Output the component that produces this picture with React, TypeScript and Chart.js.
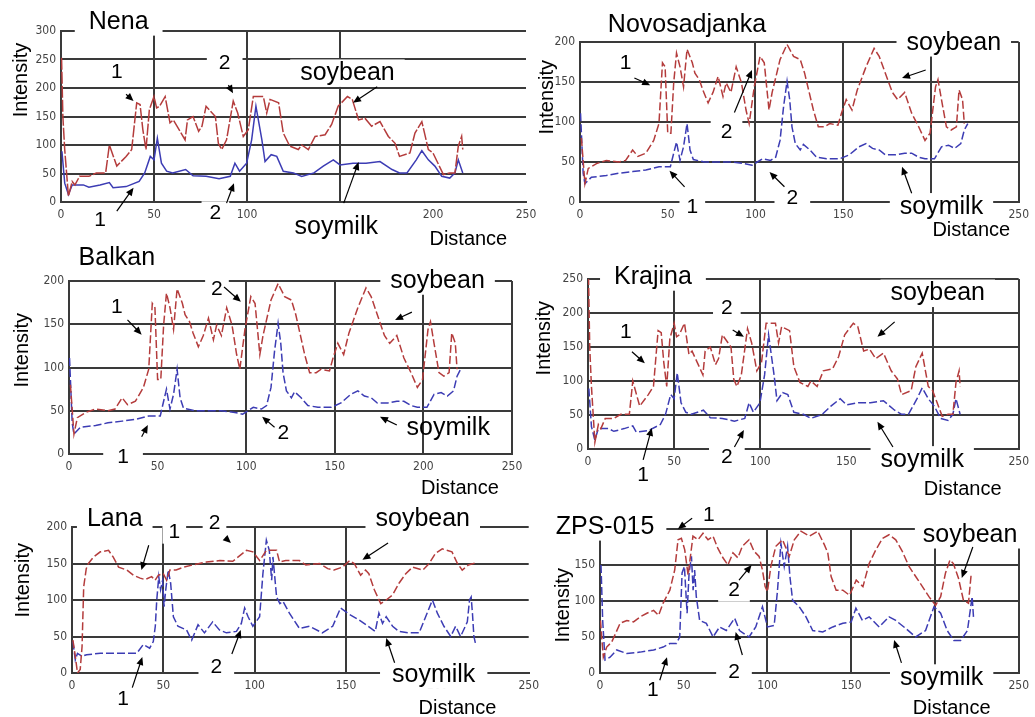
import React, { useEffect, useRef } from "react";
import { Chart, registerables } from "chart.js";
Chart.register(...registerables);

// ---------------- DATA ----------------
const xTickStep = 50;

// Nena (also Krajina shows the same traces)
const nenaSoybeanX = [0.3, 1, 2, 4, 6, 7.5, 10, 15, 19, 24, 26, 30, 35, 38, 40.7, 42.5, 44, 45.7, 47.5, 50, 51.4, 53, 56, 58.6, 60.4, 64, 66.7, 68, 71, 74, 75.8, 78, 83, 84.6, 86.4, 89, 92.6, 95, 98, 100.7, 103.4, 108.8, 110.6, 112.4, 117, 119.5, 123, 127.6, 129.4, 133, 136.6, 142, 145.5, 149, 154, 156.6, 160, 163.4, 167, 171.5, 176, 179.6, 182, 187.6, 190.3, 194, 197.5, 200, 205.6, 209, 211.8, 213.6, 215.4, 216];
const nenaSoybean = [253, 150, 92, 10, 36, 30, 45, 45, 51, 51, 100, 63, 80, 92, 174, 171, 127, 92, 162, 185, 165, 168, 185, 139, 144, 124, 109, 144, 150, 124, 133, 168, 150, 103, 92, 109, 177, 156, 115, 127, 185, 185, 156, 180, 174, 121, 98, 92, 100, 92, 115, 118, 136, 168, 185, 180, 144, 147, 133, 141, 115, 103, 80, 86, 121, 141, 92, 86, 48, 51, 51, 98, 115, 92];
const nenaSoymilkX = [0.5, 2, 4, 6, 12, 15, 21, 26, 28, 35, 42, 45, 48, 50, 51.8, 54, 56.8, 60, 67, 71, 78, 85, 91, 93.5, 96, 99.8, 102.5, 104.8, 108, 109.7, 113, 116, 119.5, 125, 129.4, 136, 141, 146.4, 150, 157, 164, 171.5, 178, 182, 186, 191, 194, 197.5, 201, 204.7, 209, 211.8, 213.6, 216];
const nenaSoymilk = [89, 33, 13, 30, 30, 26, 30, 34, 25, 27, 36, 51, 80, 74, 112, 68, 54, 51, 57, 46, 45, 41, 45, 68, 54, 68, 109, 168, 109, 71, 83, 80, 54, 51, 45, 51, 63, 74, 65, 68, 68, 71, 57, 51, 51, 74, 90, 74, 63, 45, 42, 51, 74, 51];

// Novosadjanka (Balkan shows the same traces)
const novoSoybeanX = [0.8, 2.8, 4.7, 9.4, 15, 22, 26, 30, 33, 37.5, 42, 45, 47, 48.5, 50, 51.8, 53.4, 55, 57, 59, 61, 64, 65.5, 68, 70, 73, 75.8, 78.7, 81.5, 83.3, 86, 89, 92, 94.6, 96.4, 99.3, 102.6, 105, 107.7, 109.5, 114, 118, 121.7, 125.5, 128, 133, 135.8, 139.5, 142.3, 147, 149, 151.7, 155, 158, 163, 167.6, 170.5, 174, 178, 181, 185, 189, 193, 196.6, 199.5, 202.6, 204, 206, 208.8, 211.5, 214.5, 216, 218, 219];
const novoSoybean = [80, 23, 42, 48, 52, 50, 52, 65, 57, 61, 77, 98, 174, 169, 86, 86, 149, 186, 169, 144, 191, 174, 161, 153, 140, 124, 137, 157, 132, 149, 137, 169, 149, 115, 98, 144, 182, 174, 115, 137, 178, 197, 182, 178, 161, 115, 94, 94, 98, 96, 111, 128, 115, 140, 169, 192, 182, 161, 137, 128, 137, 111, 94, 77, 86, 144, 153, 128, 94, 90, 94, 140, 128, 98];
const novoSoymilkX = [0.3, 1.8, 2.8, 6.5, 15, 22, 30, 37.5, 45, 51.5, 53.4, 55, 57, 59, 61, 62.7, 64.6, 71, 78.7, 86, 93.6, 98, 104, 108.6, 111.5, 114, 116, 118, 119.5, 120.8, 122.7, 125.5, 127.3, 131, 134.8, 140.5, 148, 153.5, 159, 163, 166.7, 170.5, 174, 180, 185, 189, 193, 196.6, 202, 206, 210, 213.5, 217, 219, 221];
const novoSoymilk = [111, 36, 23, 31, 33, 36, 38, 40, 44, 44, 61, 75, 52, 69, 98, 65, 53, 50, 50, 50, 48, 46, 54, 52, 56, 77, 119, 151, 128, 94, 73, 65, 72, 65, 56, 54, 54, 59, 69, 73, 67, 65, 59, 59, 61, 61, 56, 54, 54, 69, 71, 67, 73, 90, 98];

// Lana
const lanaSoybeanX = [0.5, 1.8, 3, 4.5, 5.5, 6.4, 7.8, 9, 11.8, 15.5, 20, 22.5, 25.5, 30, 33.6, 37.3, 40, 43.6, 45.5, 47.3, 50, 51.8, 53.6, 57, 61, 66, 73.6, 81, 88, 91, 95.5, 99, 102.7, 106.4, 112, 113.6, 117, 124.5, 128, 135.5, 140, 143.5, 148, 152, 154.5, 158, 160.7, 162.5, 165.5, 169, 172, 175.5, 179, 182.7, 186.4, 192, 195.5, 199, 202.7, 208, 211, 213.6, 217, 221];
const lanaSoybean = [45, 23, 0, 5, 36, 118, 143, 150, 159, 166, 168, 159, 145, 141, 134, 130, 128, 132, 127, 134, 136, 127, 141, 141, 145, 148, 152, 154, 153, 159, 168, 166, 154, 168, 168, 152, 154, 154, 148, 150, 143, 141, 145, 154, 150, 134, 141, 136, 114, 95, 100, 107, 123, 136, 145, 141, 150, 164, 170, 166, 150, 141, 148, 151];
const lanaSoymilkX = [0.5, 1.8, 3, 5.5, 8, 15.5, 23, 30, 35.5, 39, 42.5, 44.5, 45.6, 46.4, 47.5, 48.5, 49.6, 50.4, 51.5, 52.7, 54, 55.5, 58, 62.7, 65.5, 69, 72.5, 77, 80.7, 84.5, 90, 92.7, 94.5, 96.4, 99, 102.7, 104.5, 106.4, 108, 109.3, 110, 112, 113.8, 115.5, 119, 124.5, 130, 137, 142.7, 147, 152, 157, 161, 166, 168, 170, 172, 175.5, 179, 184.5, 190, 193.6, 197.3, 200, 203.6, 207.3, 210, 212.7, 216.4, 217.6, 218.5, 219.2, 220, 221];
const lanaSoymilk = [43, 18, 27, 23, 25, 27, 27, 27, 27, 39, 34, 43, 64, 100, 132, 114, 127, 91, 118, 141, 123, 77, 64, 59, 45, 66, 55, 70, 59, 55, 57, 68, 89, 77, 64, 77, 136, 182, 168, 127, 159, 104, 95, 98, 82, 61, 64, 55, 64, 89, 80, 73, 66, 57, 82, 68, 77, 64, 57, 55, 55, 77, 100, 82, 64, 50, 64, 50, 70, 100, 104, 82, 50, 39];

// ZPS-015
const zpsSoybeanX = [0.3, 1, 2, 4, 7, 12, 16, 20, 24, 28, 32, 35, 37.7, 41.7, 44.6, 46.6, 48.6, 50.6, 52.6, 54, 55.5, 58.5, 61.5, 64.5, 67.5, 70.4, 73.4, 76.4, 79.4, 82.3, 85, 89, 92, 95, 97, 98.6, 100, 102, 105, 109, 113, 116, 120, 125, 130, 134, 136, 138, 141, 145, 149, 153, 157, 160.7, 164.7, 168.7, 172.6, 176.6, 180.5, 184.5, 188.5, 192.5, 196.4, 200.4, 203.4, 206.3, 209, 211, 214, 217, 220, 221.5, 223];
const zpsSoybean = [73, 50, 22, 36, 43, 69, 73, 71, 78, 83, 87, 80, 97, 115, 143, 185, 187, 171, 136, 162, 190, 185, 194, 185, 190, 173, 160, 150, 167, 160, 176, 185, 169, 162, 143, 120, 113, 148, 176, 185, 162, 185, 197, 190, 197, 178, 167, 134, 115, 115, 108, 129, 120, 152, 171, 187, 192, 185, 169, 148, 134, 120, 106, 94, 106, 139, 157, 152, 132, 101, 97, 134, 134];
const zpsSoymilkX = [0.6, 1.6, 3, 6, 10, 16, 24, 32, 37.7, 41.7, 45.6, 47.6, 49, 50.4, 52, 53.2, 54.6, 55.6, 56.5, 57.5, 59.5, 63.5, 67.5, 71.4, 75.4, 80.4, 83.3, 89, 93, 97, 100, 104, 106, 108, 110, 112, 113.4, 115, 119, 123, 127, 133, 139, 145, 150, 152.8, 156.7, 160.7, 166.7, 172.6, 176.6, 182.5, 188.5, 194.4, 199.4, 203.4, 207.3, 211.3, 215.3, 219.4, 222.2, 223];
const zpsSoymilk = [150, 73, 18, 22, 32, 27, 29, 32, 36, 41, 41, 50, 139, 148, 83, 139, 162, 115, 143, 106, 73, 69, 50, 64, 59, 76, 59, 50, 64, 92, 64, 66, 115, 180, 148, 176, 134, 101, 92, 78, 59, 57, 64, 69, 71, 90, 73, 78, 64, 78, 73, 62, 50, 59, 92, 83, 59, 45, 45, 59, 106, 78];

// ---------------- LAYOUT / STYLE ----------------
type Ann = { t: string; x: number; y: number; s?: number; bg?: boolean; pad?: number; padY?: number; rot?: boolean; a?: [number, number, number, number] };
type PanelCfg = {
  box: [number, number, number, number];
  area: [number, number, number, number];
  yMax: number;
  vLines: number[];
  sbX: number[]; sb: number[];
  smX: number[]; sm: number[];
  redDash: number[]; blueDash: number[];
  anns: Ann[];
};

const RED = "#b43c3c";
const BLUE = "#3c3cb4";
const GRID = "#3a3a3a";
const LABEL_FONT = '"Liberation Sans", Arial, sans-serif';
const TICK_FONT = '"DejaVu Sans Condensed", "Liberation Sans Narrow", "Liberation Sans", sans-serif';

const panels: PanelCfg[] = [
  {
    box: [0, 0, 545, 250], area: [61, 31, 526, 202], yMax: 300, vLines: [50, 100, 150],
    sbX: nenaSoybeanX, sb: nenaSoybean, smX: nenaSoymilkX, sm: nenaSoymilk, redDash: [12, 2], blueDash: [],
    anns: [
      { t: "Nena", x: 31, y: 316, s: 25, bg: true, pad: 14 },
      { t: "1", x: 30, y: 228, s: 21, bg: true, pad: 10, a: [35, 189, 39, 177] },
      { t: "2", x: 88, y: 244, s: 21, bg: true, pad: 12, a: [90, 205, 92.5, 191] },
      { t: "soybean", x: 154, y: 226, s: 25, bg: true, pad: 10, a: [170, 202, 157, 174] },
      { t: "1", x: 21, y: -32, s: 21, a: [30, -16, 39, 25] },
      { t: "2", x: 83, y: -19, s: 21, bg: true, pad: 8, a: [89, -2, 93, 33] },
      { t: "soymilk", x: 148, y: -44, s: 25, bg: true, pad: 8, padY: 8, a: [152, -2, 160, 70] },
      { t: "Intensity", x: -21, y: 214, s: 20, rot: true },
      { t: "Distance", x: 219, y: -65, s: 20 },
    ],
  },
  {
    box: [520, 0, 515, 250], area: [580, 42, 1020, 202], yMax: 200, vLines: [100, 150, 200, 250],
    sbX: novoSoybeanX, sb: novoSoybean, smX: novoSoymilkX, sm: novoSoymilk, redDash: [8, 3], blueDash: [8, 3],
    anns: [
      { t: "Novosadjanka", x: 61, y: 221, s: 25, bg: true, pad: 14 },
      { t: "soybean", x: 213, y: 199, s: 25, bg: true, pad: 10, a: [197, 165, 183.5, 155] },
      { t: "1", x: 26, y: 174, s: 21, a: [31, 155, 40, 146] },
      { t: "2", x: 83.5, y: 87, s: 21, bg: true, pad: 10, a: [88, 112, 98, 165] },
      { t: "1", x: 64, y: -6, s: 21, bg: true, pad: 7, a: [59.6, 19, 51, 39] },
      { t: "2", x: 121, y: 5, s: 21, bg: true, pad: 12, a: [116.5, 19, 108, 37.5] },
      { t: "soymilk", x: 206, y: -6, s: 25, bg: true, pad: 10, a: [189, 11, 183.5, 44] },
      { t: "Intensity", x: -18.8, y: 131, s: 20, rot: true },
      { t: "Distance", x: 223, y: -35, s: 20 },
    ],
  },
  {
    box: [0, 245, 545, 255], area: [69, 281, 512, 454], yMax: 200, vLines: [100, 150, 200, 250],
    sbX: novoSoybeanX, sb: novoSoybean, smX: novoSoymilkX, sm: novoSoymilk, redDash: [8, 3], blueDash: [8, 3],
    anns: [
      { t: "Balkan", x: 27, y: 227, s: 25, bg: true, pad: 14 },
      { t: "soybean", x: 208, y: 200, s: 25, bg: true, pad: 10, a: [193.5, 164, 184, 155] },
      { t: "1", x: 27, y: 170, s: 21, a: [33, 155, 41, 138] },
      { t: "2", x: 83.5, y: 190, s: 21, bg: true, pad: 6, a: [87.5, 193, 97, 176] },
      { t: "1", x: 30.5, y: -3.5, s: 21, bg: true, pad: 14, a: [41, 20, 44.5, 33.5] },
      { t: "2", x: 121, y: 24, s: 21, a: [116, 31, 109, 43] },
      { t: "soymilk", x: 214, y: 30, s: 25, a: [185, 33.5, 175.5, 43] },
      { t: "Intensity", x: -26.5, y: 120, s: 20, rot: true },
      { t: "Distance", x: 220.6, y: -40, s: 20 },
    ],
  },
  {
    box: [520, 245, 515, 255], area: [588, 279, 1019, 449], yMax: 250, vLines: [50, 100, 200, 250],
    sbX: nenaSoybeanX, sb: nenaSoybean, smX: nenaSoymilkX, sm: nenaSoymilk, redDash: [8, 3], blueDash: [8, 3],
    anns: [
      { t: "Krajina", x: 37.7, y: 253, s: 25, bg: true, pad: 14, padY: 6 },
      { t: "soybean", x: 203, y: 229, s: 25, bg: true, pad: 10, a: [178, 187, 168, 165] },
      { t: "1", x: 22, y: 172, s: 21, bg: true, pad: 8, a: [25.5, 143, 33, 126] },
      { t: "2", x: 80.6, y: 207, s: 21, bg: true, pad: 8, a: [84, 175, 90.5, 165] },
      { t: "1", x: 32, y: -38, s: 21, a: [32, -16, 37, 31] },
      { t: "2", x: 80.6, y: -12, s: 21, bg: true, pad: 12, a: [85, 3, 90.5, 28] },
      { t: "soymilk", x: 194, y: -16, s: 25, bg: true, pad: 10, a: [177, 3, 168, 40] },
      { t: "Intensity", x: -25, y: 163, s: 20, rot: true },
      { t: "Distance", x: 217.5, y: -59, s: 20 },
    ],
  },
  {
    box: [0, 495, 545, 222], area: [72, 527, 532, 673], yMax: 200, vLines: [50, 100, 150],
    sbX: lanaSoybeanX, sb: lanaSoybean, smX: lanaSoymilkX, sm: lanaSoymilk, redDash: [8, 3], blueDash: [8, 3],
    anns: [
      { t: "Lana", x: 23.4, y: 211, s: 25, bg: true, pad: 10 },
      { t: "soybean", x: 192, y: 211, s: 25, bg: true, pad: 10, a: [173, 178, 159, 155] },
      { t: "1", x: 56, y: 193, s: 21, bg: true, pad: 6, a: [42, 175, 38, 141] },
      { t: "2", x: 78, y: 205, s: 21, bg: true, pad: 6, a: [84, 185, 87, 178] },
      { t: "1", x: 28, y: -36, s: 21, a: [33, -20, 38.5, 22] },
      { t: "2", x: 79, y: 8, s: 21, bg: true, pad: 12, a: [87.5, 26, 92.4, 59] },
      { t: "soymilk", x: 198, y: -3, s: 25, bg: true, pad: 12, padY: 2, a: [176.6, 14, 172, 48] },
      { t: "Intensity", x: -26.6, y: 127, s: 20, rot: true },
      { t: "Distance", x: 211, y: -48, s: 20 },
    ],
  },
  {
    box: [520, 495, 515, 222], area: [600, 529, 1020, 673], yMax: 200, vLines: [100, 150, 200, 250],
    sbX: zpsSoybeanX, sb: zpsSoybean, smX: zpsSoymilkX, sm: zpsSoymilk, redDash: [8, 3], blueDash: [8, 3],
    anns: [
      { t: "ZPS-015", x: 3, y: 203, s: 25, bg: true, pad: 12, padY: 6 },
      { t: "1", x: 65, y: 219, s: 21, bg: true, pad: 8, a: [55, 215, 46.5, 200] },
      { t: "soybean", x: 221, y: 192, s: 25, bg: true, pad: 8, a: [222.6, 175, 216, 132] },
      { t: "2", x: 80, y: 115, s: 21, bg: true, pad: 10, a: [83, 129, 90.5, 150] },
      { t: "1", x: 31.5, y: -24, s: 21, a: [35.7, -10, 40, 22] },
      { t: "2", x: 80, y: 1, s: 21, bg: true, pad: 12, a: [85, 25, 81, 57] },
      { t: "soymilk", x: 204, y: -7, s: 25, bg: true, pad: 10, a: [180, 14, 175.6, 46] },
      { t: "Intensity", x: -22, y: 94, s: 20, rot: true },
      { t: "Distance", x: 210, y: -49, s: 20 },
    ],
  },
];

function mkPlugin(anns: Ann[]) {
  return {
    id: "anns",
    beforeDatasetsDraw(chart: any) {
      const { ctx, scales } = chart;
      const xs = scales.x, ys = scales.y;
      ctx.save();
      ctx.fillStyle = "#ffffff";
      for (const a of anns) {
        if (!a.bg) continue;
        const s = a.s ?? 21;
        ctx.font = `${s}px ${LABEL_FONT}`;
        const w = ctx.measureText(a.t).width;
        const px = xs.getPixelForValue(a.x);
        const py = ys.getPixelForValue(a.y);
        const p = a.pad ?? 4;
        const pY = a.padY ?? 0;
        ctx.fillRect(px - w / 2 - p, py - s * 0.55 - pY, w + 2 * p, s * 1.1 + pY);
      }
      ctx.restore();
    },
    afterDraw(chart: any) {
      const { ctx, scales } = chart;
      const xs = scales.x, ys = scales.y;
      ctx.save();
      for (const a of anns) {
        const s = a.s ?? 21;
        const px = xs.getPixelForValue(a.x);
        const py = ys.getPixelForValue(a.y);
        ctx.font = `${s}px ${LABEL_FONT}`;
        ctx.fillStyle = "#000";
        ctx.textAlign = "center";
        ctx.textBaseline = "middle";
        if (a.rot) {
          ctx.save();
          ctx.translate(px, py);
          ctx.rotate(-Math.PI / 2);
          ctx.fillText(a.t, 0, 0);
          ctx.restore();
        } else {
          ctx.fillText(a.t, px, py);
        }
        if (a.a) {
          const x1 = xs.getPixelForValue(a.a[0]);
          const y1 = ys.getPixelForValue(a.a[1]);
          const x2 = xs.getPixelForValue(a.a[2]);
          const y2 = ys.getPixelForValue(a.a[3]);
          const ang = Math.atan2(y2 - y1, x2 - x1);
          const hl = 8, hw = 3.5;
          ctx.strokeStyle = "#000";
          ctx.lineWidth = 1.2;
          ctx.beginPath();
          ctx.moveTo(x1, y1);
          ctx.lineTo(x2 - Math.cos(ang) * hl * 0.8, y2 - Math.sin(ang) * hl * 0.8);
          ctx.stroke();
          ctx.beginPath();
          ctx.moveTo(x2, y2);
          ctx.lineTo(x2 - Math.cos(ang) * hl - Math.sin(ang) * hw, y2 - Math.sin(ang) * hl + Math.cos(ang) * hw);
          ctx.lineTo(x2 - Math.cos(ang) * hl + Math.sin(ang) * hw, y2 - Math.sin(ang) * hl - Math.cos(ang) * hw);
          ctx.closePath();
          ctx.fill();
        }
      }
      ctx.restore();
    },
  };
}

function Panel({ cfg }: { cfg: PanelCfg }) {
  const ref = useRef<HTMLCanvasElement>(null);
  const [cx, cy, cw, ch] = cfg.box;
  useEffect(() => {
    const [L, T, R, B] = cfg.area;
    const tickFont = { family: TICK_FONT, size: 12 };
    const chart = new Chart(ref.current as HTMLCanvasElement, {
      type: "line",
      data: {
        datasets: [
          {
            label: "soybean",
            data: cfg.sbX.map((x, i) => ({ x, y: cfg.sb[i] })),
            borderColor: RED,
            borderWidth: 1.5,
            borderDash: cfg.redDash,
            pointRadius: 0,
            fill: false,
            tension: 0,
          },
          {
            label: "soymilk",
            data: cfg.smX.map((x, i) => ({ x, y: cfg.sm[i] })),
            borderColor: BLUE,
            borderWidth: 1.5,
            borderDash: cfg.blueDash,
            pointRadius: 0,
            fill: false,
            tension: 0,
          },
        ],
      },
      options: {
        animation: false,
        responsive: false,
        maintainAspectRatio: false,
        devicePixelRatio: 1,
        events: [],
        layout: { padding: { left: 0, top: T - cy, right: cx + cw - R, bottom: 0 } },
        plugins: { legend: { display: false }, tooltip: { enabled: false } },
        scales: {
          x: {
            type: "linear",
            min: 0,
            max: 250,
            afterFit: (s: any) => { s.height = cy + ch - B; },
            ticks: { stepSize: xTickStep, font: tickFont, color: "#444", padding: 6, maxRotation: 0, autoSkip: false },
            grid: {
              drawTicks: false,
              lineWidth: 2,
              color: (c: any) => (c.tick && cfg.vLines.includes(c.tick.value) ? GRID : "rgba(0,0,0,0)"),
            },
            border: { display: true, color: GRID, width: 2 },
          },
          y: {
            type: "linear",
            min: 0,
            max: cfg.yMax,
            afterFit: (s: any) => { s.width = L - cx; },
            ticks: { stepSize: 50, font: tickFont, color: "#444", padding: 5 },
            grid: { drawTicks: false, lineWidth: 2, color: GRID },
            border: { display: true, color: GRID, width: 2 },
          },
        },
      } as any,
      plugins: [mkPlugin(cfg.anns)],
    });
    return () => chart.destroy();
  }, [cfg]);
  return (
    <canvas
      ref={ref}
      width={cw}
      height={ch}
      style={{ position: "absolute", left: cx, top: cy, width: cw, height: ch }}
    />
  );
}

export default function App() {
  return (
    <div style={{ position: "absolute", left: 0, top: 0, width: 1035, height: 717, background: "#fff", overflow: "hidden" }}>
      {panels.map((p, i) => (
        <Panel key={i} cfg={p} />
      ))}
    </div>
  );
}
